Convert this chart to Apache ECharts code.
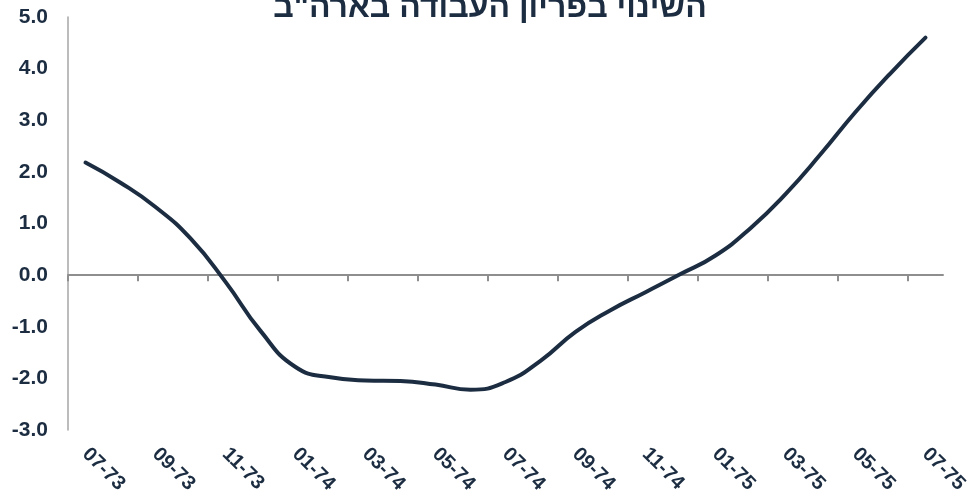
<!DOCTYPE html>
<html>
<head>
<meta charset="utf-8">
<script src="https://cdn.jsdelivr.net/npm/echarts@6/dist/echarts.min.js"></script>
<style>
  html, body { margin: 0; padding: 0; background: #ffffff; }
  #chart { width: 971px; height: 502px; }
</style>
</head>
<body>
<div id="chart"></div>
<script>
// Monthly change in US labour productivity, July 1973 – July 1975
const months = [
  "07-73", "08-73", "09-73", "10-73", "11-73", "12-73",
  "01-74", "02-74", "03-74", "04-74", "05-74", "06-74",
  "07-74", "08-74", "09-74", "10-74", "11-74", "12-74",
  "01-75", "02-75", "03-75", "04-75", "05-75", "06-75",
  "07-75"
];
const productivityChange = [
  2.18, 1.79, 1.32, 0.71, -0.13, -1.08,
  -1.78, -1.98, -2.04, -2.05, -2.12, -2.22,
  -2.07, -1.66, -1.10, -0.68, -0.33, 0.02,
  0.38, 0.91, 1.57, 2.34, 3.16, 3.91,
  4.60
];
const yMin = -3, yMax = 5, yStep = 1;
const titleText = 'השינוי בפריון העבודה בארה"ב';

// tick marks on the zero line sit on every second month boundary
const boundaryTicks = months.map((m, i) => i).filter(i => i % 2 === 0);

const ink = '#1c2d42';
const axisGray = '#8e8e8e';
const fontFamily = '"Liberation Sans", Arial, "DejaVu Sans", sans-serif';

const chart = echarts.init(document.getElementById('chart'), null, { renderer: 'canvas' });

chart.setOption({
  animation: false,
  backgroundColor: '#ffffff',
  graphic: [{
    type: 'text',
    x: 490,
    y: 8,
    style: {
      text: titleText,
      fill: ink,
      font: 'bold 32px ' + fontFamily,
      align: 'center',
      verticalAlign: 'middle'
    }
  }],
  grid: { left: 68, right: 28, top: 17, bottom: 72 },
  xAxis: [
    {
      // month labels along the bottom
      type: 'category',
      data: months,
      boundaryGap: true,
      position: 'bottom',
      axisLine: { show: false, onZero: false },
      axisTick: { show: false },
      axisLabel: {
        interval: 1,
        rotate: -45,
        margin: 21,
        color: ink,
        fontSize: 20,
        fontWeight: 'bold',
        fontFamily: fontFamily
      },
      splitLine: { show: false }
    },
    {
      // zero line with tick marks at month boundaries
      type: 'value',
      min: 0,
      max: months.length,
      position: 'bottom',
      axisLine: { show: true, onZero: true, lineStyle: { color: axisGray, width: 2 } },
      axisTick: {
        show: true,
        customValues: boundaryTicks,
        length: 6,
        lineStyle: { color: axisGray, width: 2 }
      },
      axisLabel: { show: false },
      splitLine: { show: false }
    }
  ],
  yAxis: {
    type: 'value',
    min: yMin,
    max: yMax,
    interval: yStep,
    axisLine: { show: true, lineStyle: { color: '#a6a6a6', width: 1.5 } },
    axisTick: { show: false },
    splitLine: { show: false },
    axisLabel: {
      margin: 20,
      color: ink,
      fontSize: 21,
      fontWeight: 'bold',
      fontFamily: fontFamily,
      formatter: v => v.toFixed(1)
    }
  },
  series: [{
    type: 'line',
    xAxisIndex: 0,
    data: productivityChange,
    smooth: 0.5,
    symbol: 'none',
    lineStyle: { color: ink, width: 4, cap: 'round' }
  }]
});
</script>
</body>
</html>
